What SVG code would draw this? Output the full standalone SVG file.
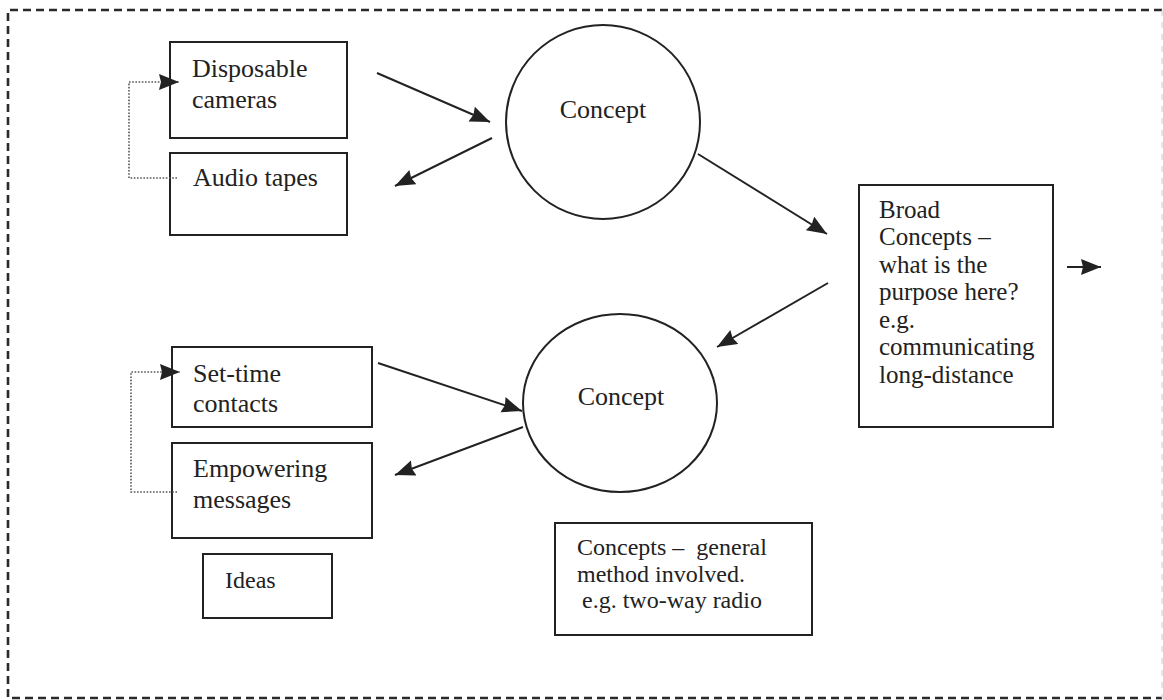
<svg xmlns="http://www.w3.org/2000/svg" width="1163" height="700" viewBox="0 0 1163 700">
  <style>
    .box { fill: #fff; stroke: #222; stroke-width: 2; }
    .ring { fill: #fff; stroke: #222; stroke-width: 2; }
    .lbl { font-family: "Liberation Serif", "Times New Roman", serif; fill: #222; }
    .big { font-size: 26px; }
    .mid { font-size: 25px; }
    .sml { font-size: 24px; }
    .flow { fill: none; stroke: #222; stroke-width: 2; marker-end: url(#head); }
    .loop { fill: none; stroke: #555; stroke-width: 1.6; stroke-dasharray: 1.6 1.6; marker-end: url(#head); }
    .frame { fill: none; stroke: #2a2a2a; stroke-width: 2.6; stroke-dasharray: 8 5; }
  </style>
  <defs>
    <marker id="head" markerUnits="userSpaceOnUse" markerWidth="22" markerHeight="18" refX="20" refY="8" orient="auto">
      <path d="M0,0 L20,8 L0,16 L2,8 Z" fill="#222"/>
    </marker>
  </defs>

  <rect width="1163" height="700" fill="#fff"/>

  <!-- outer frame -->
  <path class="frame" d="M1162,10 L8,10 L8,698 L1162,698"/>
  <line x1="1162" y1="10" x2="1162" y2="698" stroke="#ccc" stroke-width="1" stroke-dasharray="6 6"/>

  <g id="disposable-cameras">
    <rect class="box" x="170" y="42" width="177" height="96"/>
    <text class="lbl big" x="192" y="77">Disposable</text>
    <text class="lbl big" x="192" y="108">cameras</text>
  </g>
  <g id="audio-tapes">
    <rect class="box" x="170" y="153" width="177" height="82"/>
    <text class="lbl big" x="193" y="186">Audio tapes</text>
  </g>
  <g id="concept-top">
    <circle class="ring" cx="603" cy="122" r="97"/>
    <text class="lbl big" x="603" y="118" text-anchor="middle">Concept</text>
  </g>
  <g id="broad-concepts">
    <rect class="box" x="859" y="185" width="194" height="242"/>
    <text class="lbl mid" x="879" y="218">Broad</text>
    <text class="lbl mid" x="879" y="245">Concepts –</text>
    <text class="lbl mid" x="879" y="273">what is the</text>
    <text class="lbl mid" x="879" y="300">purpose here?</text>
    <text class="lbl mid" x="879" y="328">e.g.</text>
    <text class="lbl mid" x="879" y="355">communicating</text>
    <text class="lbl mid" x="879" y="383">long-distance</text>
  </g>
  <g id="set-time-contacts">
    <rect class="box" x="172" y="347" width="200" height="80"/>
    <text class="lbl big" x="193" y="382">Set-time</text>
    <text class="lbl big" x="193" y="412">contacts</text>
  </g>
  <g id="empowering-messages">
    <rect class="box" x="172" y="443" width="200" height="95"/>
    <text class="lbl big" x="193" y="477">Empowering</text>
    <text class="lbl big" x="193" y="508">messages</text>
  </g>
  <g id="ideas">
    <rect class="box" x="203" y="554" width="129" height="64"/>
    <text class="lbl sml" x="225" y="588">Ideas</text>
  </g>
  <g id="concept-bottom">
    <ellipse class="ring" cx="620" cy="403" rx="97" ry="89"/>
    <text class="lbl big" x="621" y="405" text-anchor="middle">Concept</text>
  </g>
  <g id="general-method">
    <rect class="box" x="555" y="523" width="257" height="112"/>
    <text class="lbl sml" x="577" y="555" xml:space="preserve">Concepts –  general</text>
    <text class="lbl sml" x="577" y="582">method involved.</text>
    <text class="lbl sml" x="582" y="608">e.g. two-way radio</text>
  </g>

  <g id="connectors">
    <line class="flow" x1="377" y1="73" x2="490" y2="122"/>
    <line class="flow" x1="492" y1="138" x2="395" y2="186"/>
    <line class="flow" x1="698" y1="154" x2="827" y2="234"/>
    <line class="flow" x1="828" y1="283" x2="717" y2="347"/>
    <line class="flow" x1="1067" y1="267" x2="1101" y2="267"/>
    <line class="flow" x1="378" y1="363" x2="522" y2="411"/>
    <line class="flow" x1="523" y1="427" x2="395" y2="475"/>
    <polyline class="loop" points="177,178 129,178 129,82 179,82"/>
    <polyline class="loop" points="177,492 131,492 131,372 180,372"/>
  </g>
</svg>
